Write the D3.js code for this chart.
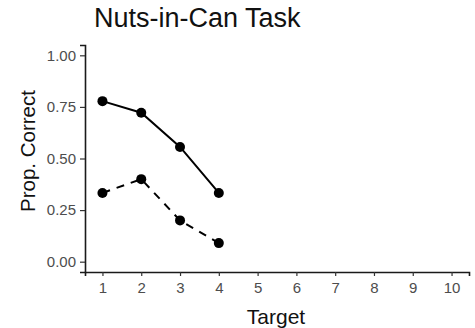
<!DOCTYPE html>
<html>
<head>
<meta charset="utf-8">
<script src="https://cdn.jsdelivr.net/npm/d3@7"></script>
<style>
  body { margin: 0; background: #fff; }
  svg { font-family: "Liberation Sans", Arial, sans-serif; }
</style>
</head>
<body>
<svg id="chart" width="475" height="328"></svg>
<script>
const targets = [1, 2, 3, 4]
const solidValues = [0.778, 0.722, 0.556, 0.333]
const dashedValues = [0.333, 0.40, 0.20, 0.09]
const xTicks = [1, 2, 3, 4, 5, 6, 7, 8, 9, 10]
const yTicks = [0, 0.25, 0.5, 0.75, 1]

const svg = d3.select("#chart")
const plotLeft = 85, plotRight = 469, plotTop = 45, plotBottom = 272

// ggplot style expansion around the data range
var x = d3.scaleLinear().domain([0.55, 10.45]).range([plotLeft, plotRight])
var y = d3.scaleLinear().domain([-0.05, 1.05]).range([plotBottom, plotTop])

svg.append("g")
  .attr("transform", "translate(0," + plotBottom + ")")
  .call(d3.axisBottom(x).tickValues(xTicks).tickFormat(d3.format("d")).tickSize(4).tickPadding(6))
svg.append("g")
  .attr("transform", "translate(" + plotLeft + ",0)")
  .call(d3.axisLeft(y).tickValues(yTicks).tickFormat(d3.format(".2f")).tickSize(5).tickPadding(4))

svg.selectAll(".domain").attr("stroke", "#1a1a1a").attr("stroke-width", 1.6)
svg.selectAll(".tick line").attr("stroke", "#333").attr("stroke-width", 1.2)
svg.selectAll(".tick text").attr("fill", "#4d4d4d").style("font-size", "15px")

function drawSeries(values, dash) {
  var pts = targets.map(function(t, i) { return [t, values[i]] })
  svg.append("path")
    .datum(pts)
    .attr("fill", "none")
    .attr("stroke", "black")
    .attr("stroke-width", 2)
    .attr("stroke-dasharray", dash)
    .attr("d", d3.line().x(function(d) { return x(d[0]) }).y(function(d) { return y(d[1]) }))
  svg.append("g").selectAll("circle")
    .data(pts)
    .enter().append("circle")
    .attr("cx", function(d) { return x(d[0]) })
    .attr("cy", function(d) { return y(d[1]) })
    .attr("r", 5)
    .attr("fill", "black")
}

drawSeries(solidValues, null)
drawSeries(dashedValues, "8,7")

svg.append("text")
  .attr("x", 94).attr("y", 27)
  .style("font-size", "27px")
  .attr("fill", "#111")
  .text("Nuts-in-Can Task")

svg.append("text")
  .attr("x", 276).attr("y", 324)
  .attr("text-anchor", "middle")
  .style("font-size", "21px")
  .attr("fill", "#111")
  .text("Target")

svg.append("text")
  .attr("transform", "translate(35,151) rotate(-90)")
  .attr("text-anchor", "middle")
  .style("font-size", "20.5px")
  .attr("fill", "#111")
  .text("Prop. Correct")
</script>
</body>
</html>
